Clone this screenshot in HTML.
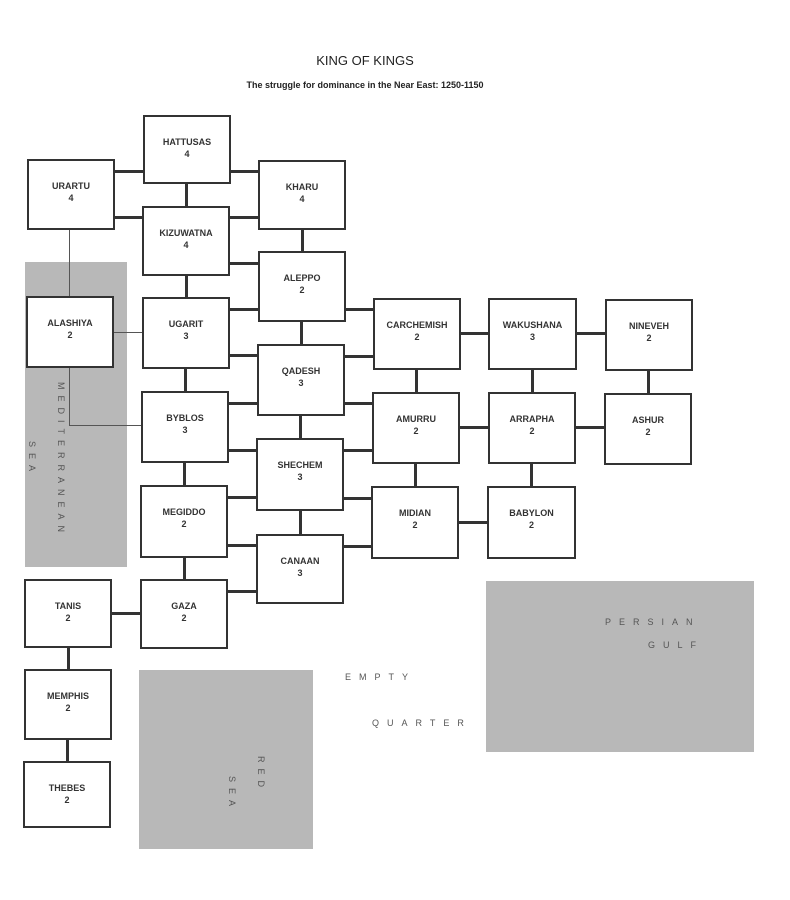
<!DOCTYPE html>
<html><head><style>
body{margin:0;width:790px;height:900px;background:#fff;position:relative;font-family:"Liberation Sans",sans-serif;overflow:hidden}
.b{position:absolute;border:2px solid #333;box-sizing:border-box;background:#fff;text-align:center;font-size:9px;font-weight:bold;color:#333;padding-top:19px;line-height:12px}
.h{position:absolute;height:3px;background:#333}
.v{position:absolute;width:3px;background:#333}
.g{position:absolute;background:#b8b8b8}
.t{position:absolute;font-size:9px;color:#555;letter-spacing:8px}
.vt{position:absolute;writing-mode:vertical-rl;font-size:9px;color:#555;letter-spacing:6px}
</style></head><body>
<div style="position:absolute;left:0;width:730px;top:53px;text-align:center;font-size:13px;color:#222">KING OF KINGS</div>
<div style="position:absolute;left:0;width:730px;top:80px;text-align:center;font-size:9px;font-weight:bold;color:#222">The struggle for dominance in the Near East: 1250-1150</div>

<div class="g" style="left:25px;top:262px;width:102px;height:305px"></div>
<div class="g" style="left:139px;top:670px;width:174px;height:179px"></div>
<div class="g" style="left:486px;top:581px;width:268px;height:171px"></div>

<!-- thin lines -->
<div style="position:absolute;left:69px;top:229px;width:1px;height:196px;background:#555"></div>
<div style="position:absolute;left:69px;top:425px;width:72px;height:1px;background:#555"></div>
<div style="position:absolute;left:113px;top:332px;width:29px;height:1px;background:#555"></div>

<!-- horizontals -->
<div class="h" style="left:113px;top:170px;width:31px"></div>
<div class="h" style="left:113px;top:216px;width:31px"></div>
<div class="h" style="left:229px;top:170px;width:31px"></div>
<div class="h" style="left:228px;top:216px;width:31px"></div>
<div class="h" style="left:228px;top:262px;width:31px"></div>
<div class="h" style="left:228px;top:308px;width:31px"></div>
<div class="h" style="left:228px;top:354px;width:31px"></div>
<div class="h" style="left:344px;top:308px;width:30px"></div>
<div class="h" style="left:343px;top:355px;width:31px"></div>
<div class="h" style="left:227px;top:402px;width:31px"></div>
<div class="h" style="left:343px;top:402px;width:31px"></div>
<div class="h" style="left:227px;top:449px;width:31px"></div>
<div class="h" style="left:342px;top:449px;width:31px"></div>
<div class="h" style="left:226px;top:496px;width:31px"></div>
<div class="h" style="left:342px;top:497px;width:31px"></div>
<div class="h" style="left:226px;top:544px;width:31px"></div>
<div class="h" style="left:342px;top:545px;width:31px"></div>
<div class="h" style="left:226px;top:590px;width:31px"></div>
<div class="h" style="left:110px;top:612px;width:31px"></div>
<div class="h" style="left:459px;top:332px;width:30px"></div>
<div class="h" style="left:575px;top:332px;width:31px"></div>
<div class="h" style="left:458px;top:426px;width:31px"></div>
<div class="h" style="left:574px;top:426px;width:31px"></div>
<div class="h" style="left:457px;top:521px;width:31px"></div>
<!-- verticals -->
<div class="v" style="left:185px;top:182px;height:25px"></div>
<div class="v" style="left:185px;top:274px;height:24px"></div>
<div class="v" style="left:184px;top:367px;height:25px"></div>
<div class="v" style="left:183px;top:461px;height:25px"></div>
<div class="v" style="left:183px;top:556px;height:24px"></div>
<div class="v" style="left:301px;top:228px;height:24px"></div>
<div class="v" style="left:300px;top:320px;height:25px"></div>
<div class="v" style="left:299px;top:414px;height:25px"></div>
<div class="v" style="left:299px;top:509px;height:26px"></div>
<div class="v" style="left:67px;top:646px;height:24px"></div>
<div class="v" style="left:66px;top:738px;height:24px"></div>
<div class="v" style="left:415px;top:368px;height:25px"></div>
<div class="v" style="left:414px;top:462px;height:25px"></div>
<div class="v" style="left:531px;top:368px;height:25px"></div>
<div class="v" style="left:530px;top:462px;height:25px"></div>
<div class="v" style="left:647px;top:369px;height:25px"></div>

<div class="b" style="left:143px;top:115px;width:88px;height:69px">HATTUSAS<br>4</div>
<div class="b" style="left:27px;top:159px;width:88px;height:71px">URARTU<br>4</div>
<div class="b" style="left:258px;top:160px;width:88px;height:70px">KHARU<br>4</div>
<div class="b" style="left:142px;top:206px;width:88px;height:70px">KIZUWATNA<br>4</div>
<div class="b" style="left:258px;top:251px;width:88px;height:71px">ALEPPO<br>2</div>
<div class="b" style="left:26px;top:296px;width:88px;height:72px">ALASHIYA<br>2</div>
<div class="b" style="left:142px;top:297px;width:88px;height:72px">UGARIT<br>3</div>
<div class="b" style="left:257px;top:344px;width:88px;height:72px">QADESH<br>3</div>
<div class="b" style="left:141px;top:391px;width:88px;height:72px">BYBLOS<br>3</div>
<div class="b" style="left:256px;top:438px;width:88px;height:73px">SHECHEM<br>3</div>
<div class="b" style="left:140px;top:485px;width:88px;height:73px">MEGIDDO<br>2</div>
<div class="b" style="left:256px;top:534px;width:88px;height:70px">CANAAN<br>3</div>
<div class="b" style="left:24px;top:579px;width:88px;height:69px">TANIS<br>2</div>
<div class="b" style="left:140px;top:579px;width:88px;height:70px">GAZA<br>2</div>
<div class="b" style="left:24px;top:669px;width:88px;height:71px">MEMPHIS<br>2</div>
<div class="b" style="left:23px;top:761px;width:88px;height:67px">THEBES<br>2</div>
<div class="b" style="left:373px;top:298px;width:88px;height:72px">CARCHEMISH<br>2</div>
<div class="b" style="left:488px;top:298px;width:89px;height:72px">WAKUSHANA<br>3</div>
<div class="b" style="left:605px;top:299px;width:88px;height:72px">NINEVEH<br>2</div>
<div class="b" style="left:372px;top:392px;width:88px;height:72px">AMURRU<br>2</div>
<div class="b" style="left:488px;top:392px;width:88px;height:72px">ARRAPHA<br>2</div>
<div class="b" style="left:604px;top:393px;width:88px;height:72px">ASHUR<br>2</div>
<div class="b" style="left:371px;top:486px;width:88px;height:73px">MIDIAN<br>2</div>
<div class="b" style="left:487px;top:486px;width:89px;height:73px">BABYLON<br>2</div>

<div class="vt" style="left:56px;top:382px">MEDITERRANEAN</div>
<div class="vt" style="left:27px;top:441px">SEA</div>
<div class="vt" style="left:256px;top:756px">RED</div>
<div class="vt" style="left:227px;top:776px">SEA</div>
<div class="t" style="left:345px;top:672px">EMPTY</div>
<div class="t" style="left:372px;top:718px">QUARTER</div>
<div class="t" style="left:605px;top:617px">PERSIAN</div>
<div class="t" style="left:648px;top:640px">GULF</div>
</body></html>
